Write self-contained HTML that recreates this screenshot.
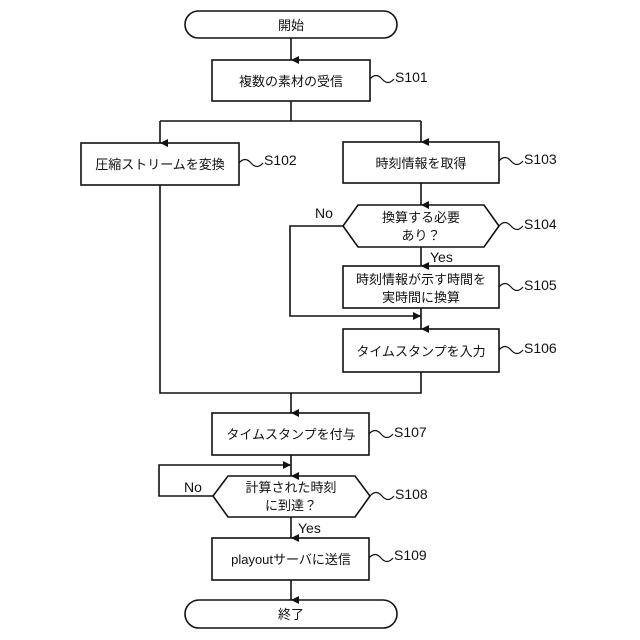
<!DOCTYPE html>
<html><head><meta charset="utf-8"><style>
html,body{margin:0;padding:0;background:#fff;}
svg{display:block}
text{font-family:"Liberation Sans","Noto Sans CJK JP",sans-serif;fill:#111;}
</style></head><body>
<svg width="640" height="640" viewBox="0 0 640 640" xmlns="http://www.w3.org/2000/svg">
<defs><marker id="a" markerWidth="8" markerHeight="8" refX="4" refY="8" orient="auto-start-reverse" markerUnits="userSpaceOnUse"><path d="M0,0 L8,0 L4,8 z" fill="#111" transform="rotate(0)"/></marker>
<marker id="r" markerWidth="8" markerHeight="8" refX="8" refY="4" markerUnits="userSpaceOnUse"><path d="M0,0 L8,4 L0,8 z" fill="#111"/></marker></defs>
<g stroke="#111" stroke-width="1.6" fill="none">
<rect x="185" y="11" width="212" height="27" rx="13.5"/>
<rect x="212" y="60" width="158" height="41"/>
<rect x="81" y="143" width="158" height="42"/>
<rect x="343" y="142" width="156" height="41"/>
<polygon points="343,226 358,205 484,205 499,226 484,247 358,247"/>
<rect x="343" y="266" width="156" height="42"/>
<rect x="343" y="329" width="156" height="43"/>
<rect x="212" y="413" width="157" height="42"/>
<polygon points="213,496 228,476 355,476 370,496 355,517 228,517"/>
<rect x="212" y="538" width="157" height="42"/>
<rect x="185" y="600" width="212" height="28" rx="14"/>
<!-- connectors -->
<line x1="291" y1="38" x2="291" y2="60" marker-end="url(#a)"/>
<polyline points="291,101 291,121"/>
<polyline points="160,121 421,121"/>
<line x1="160" y1="121" x2="160" y2="143" marker-end="url(#a)"/>
<line x1="421" y1="121" x2="421" y2="142" marker-end="url(#a)"/>
<line x1="421" y1="183" x2="421" y2="205" marker-end="url(#a)"/>
<line x1="421" y1="247" x2="421" y2="266" marker-end="url(#a)"/>
<polyline points="343,226 290,226 290,316 421,316" marker-end="url(#r)"/>
<line x1="421" y1="308" x2="421" y2="329" marker-end="url(#a)"/>
<polyline points="160,185 160,393 421,393 421,372"/>
<line x1="291" y1="393" x2="291" y2="413" marker-end="url(#a)"/>
<line x1="291" y1="455" x2="291" y2="476" marker-end="url(#a)"/>
<polyline points="213,496 159,496 159,465 291,465" marker-end="url(#r)"/>
<line x1="291" y1="517" x2="291" y2="538" marker-end="url(#a)"/>
<line x1="291" y1="580" x2="291" y2="600" marker-end="url(#a)"/>
<!-- squiggles -->
<path d="M370,79 q6,-7 12,0 t12,0" stroke-width="1.2"/>
<path d="M239,163 q6,-7 12,0 t12,0" stroke-width="1.2"/>
<path d="M499,161 q6,-7 12,0 t12,0" stroke-width="1.2"/>
<path d="M499,226 q6,-7 12,0 t12,0" stroke-width="1.2"/>
<path d="M499,287 q6,-7 12,0 t12,0" stroke-width="1.2"/>
<path d="M499,350 q6,-7 12,0 t12,0" stroke-width="1.2"/>
<path d="M369,434 q6,-7 12,0 t12,0" stroke-width="1.2"/>
<path d="M370,496 q6,-7 12,0 t12,0" stroke-width="1.2"/>
<path d="M369,558 q6,-7 12,0 t12,0" stroke-width="1.2"/>
</g>
<g font-size="13" text-anchor="middle">
<text x="291" y="30">開始</text>
<text x="291" y="86">複数の素材の受信</text>
<text x="160" y="169">圧縮ストリームを変換</text>
<text x="421" y="168">時刻情報を取得</text>
<text x="421" y="222">換算する必要</text>
<text x="421" y="240">あり？</text>
<text x="421" y="284">時刻情報が示す時間を</text>
<text x="421" y="302">実時間に換算</text>
<text x="421" y="356">タイムスタンプを入力</text>
<text x="291" y="439">タイムスタンプを付与</text>
<text x="291" y="492">計算された時刻</text>
<text x="291" y="510">に到達？</text>
<text x="291" y="564">playoutサーバに送信</text>
<text x="291" y="619">終了</text>
</g>
<g font-size="14">
<text x="395" y="82">S101</text>
<text x="264" y="165">S102</text>
<text x="524" y="164">S103</text>
<text x="524" y="229">S104</text>
<text x="524" y="290">S105</text>
<text x="524" y="353">S106</text>
<text x="394" y="437">S107</text>
<text x="395" y="499">S108</text>
<text x="394" y="560">S109</text>
<text x="315" y="218">No</text>
<text x="430" y="262">Yes</text>
<text x="184" y="492">No</text>
<text x="298" y="533">Yes</text>
</g>
</svg>
</body></html>
